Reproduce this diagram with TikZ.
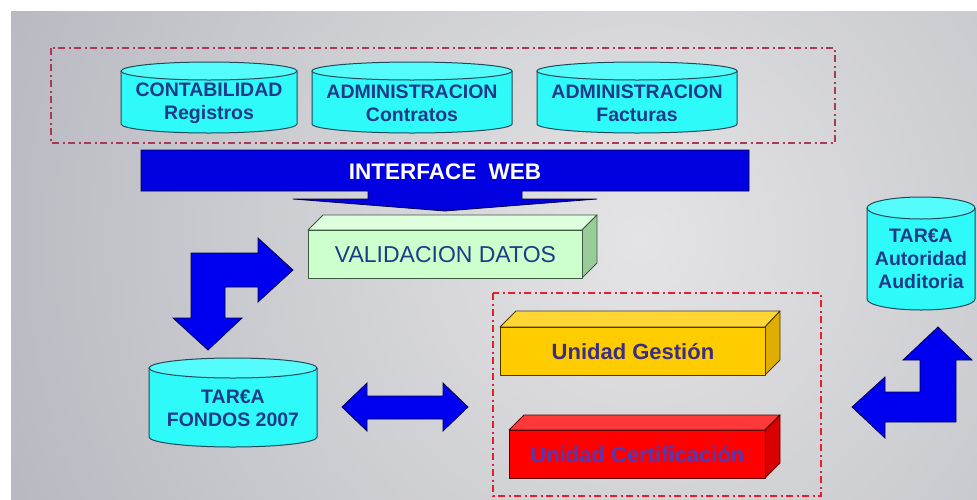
\documentclass[tikz,border=0pt]{standalone}
\usepackage{fontspec}
\setmainfont{Liberation Sans}
\definecolor{bgin}{HTML}{E4E4E6}
\definecolor{bgout}{HTML}{9A9CA6}
\definecolor{cylfill}{HTML}{2EFAFA}
\definecolor{cyltopc}{HTML}{55FCFC}
\definecolor{cyledge}{HTML}{1E4A5A}
\definecolor{dblue}{HTML}{1F3A86}
\definecolor{arrblue}{HTML}{0000F0}
\definecolor{arredge}{HTML}{000046}
\definecolor{barblue}{HTML}{0000E0}
\definecolor{maroondash}{HTML}{A83A58}
\definecolor{reddash}{HTML}{E41E2A}
\definecolor{valfront}{HTML}{CCFFCC}
\definecolor{valtop}{HTML}{DDFFDD}
\definecolor{valside}{HTML}{99CC99}
\definecolor{valedge}{HTML}{3A5A40}
\definecolor{gfront}{HTML}{FFCC00}
\definecolor{gtop}{HTML}{FFD633}
\definecolor{gside}{HTML}{E0AE00}
\definecolor{gedge}{HTML}{4A3A00}
\definecolor{gtext}{HTML}{3A2E82}
\definecolor{rfront}{HTML}{FF0000}
\definecolor{rtop}{HTML}{FF3838}
\definecolor{rside}{HTML}{D80000}
\definecolor{redge}{HTML}{5A0000}
\definecolor{rtext}{HTML}{5438B4}
\tikzset{
  cylbody/.style={fill=cylfill},
  cyloutline/.style={draw=cyledge, line width=1pt},
  cyltop/.style={fill=cyltopc, draw=cyledge, line width=1pt},
  cyltext/.style={text=dblue, font=\fontsize{19.5}{23}\selectfont\bfseries, align=center, inner sep=0pt},
  bluearrow/.style={fill=arrblue, draw=arredge, line width=0.8pt, line join=miter},
  dashdot/.style={line width=1.8pt, dash pattern=on 7pt off 3.5pt on 2pt off 3.5pt},
  facebox/.style={line width=0.9pt, line join=round},
}
\newcommand\dbcyl[8]{%
  \pgfmathsetmacro\cylcx{(#2+#3)/2}%
  \pgfmathsetmacro\cylrx{(#3-#2)/2}%
  \path[cylbody] (#2,#4+#6) -- (#2,#5-#6) arc[start angle=180,end angle=0,x radius=\cylrx,y radius=#6] -- (#3,#4+#6) arc[start angle=0,end angle=-180,x radius=\cylrx,y radius=#6] -- cycle;
  \path[cyloutline] (#2,#4+#6) -- (#2,#5-#6) arc[start angle=180,end angle=0,x radius=\cylrx,y radius=#6] -- (#3,#4+#6);
  \path[cyltop] (\cylcx,#4+#6) ellipse[x radius=\cylrx, y radius=#6];
  \node[cyltext] (#1) at (\cylcx,#7) {#8};
}
\begin{document}
\begin{tikzpicture}[x=1pt,y=-1pt]
\useasboundingbox (0,0) rectangle (977,499);
\fill[white] (0,0) rectangle (977,499);
% background
\begin{scope}
  \clip (11,11) rectangle (977,499);
  \fill[bgout] (11,11) rectangle (977,499);
  \shade[inner color=bgin, outer color=bgout] (640,240) circle (1150);
\end{scope}

% top dash-dot group
\draw[dashdot, maroondash] (51,48) rectangle (835,143);

% top cylinders
\dbcyl{cont}{121}{297}{62}{133}{9}{103}{CONTABILIDAD\\Registros}
\dbcyl{admc}{312}{512}{62}{133}{9}{103}{ADMINISTRACION\\Contratos}
\dbcyl{admf}{537}{737}{62}{133}{9}{103}{ADMINISTRACION\\Facturas}

% interface web bar with arrow
\draw[bluearrow, fill=barblue] (141,150) -- (749,150) -- (749,191) -- (522,191) -- (522,199) -- (597,199) -- (445,211) -- (293,199) -- (368,199) -- (368,191) -- (141,191) -- cycle;
\node[text=white, font=\fontsize{22.5}{25}\selectfont\bfseries, inner sep=0pt] (web) at (445,172) {INTERFACE\ \ WEB};

% validacion box
\filldraw[facebox, fill=valtop, draw=valedge] (308,230) -- (323,215) -- (597,215) -- (582,230) -- cycle;
\filldraw[facebox, fill=valside, draw=valedge] (582,230) -- (597,215) -- (597,263) -- (582,278) -- cycle;
\node[facebox, draw=valedge, fill=valfront, minimum width=274pt, minimum height=48pt, anchor=north west, inner sep=0pt, text=dblue, font=\fontsize{23}{26}\selectfont] (val) at (308,230) {VALIDACION DATOS};

% left L arrow
\draw[bluearrow] (191,253) -- (258,253) -- (258,238) -- (293,270) -- (258,302) -- (258,287) -- (225,287) -- (225,318) -- (242,318) -- (208,350) -- (173,318) -- (191,318) -- cycle;

% TAREA fondos
\dbcyl{fondos}{149}{317}{358}{447}{10}{408}{TAR€A\\FONDOS 2007}

% double arrow
\draw[bluearrow] (342,407) -- (367,383) -- (367,396) -- (443,396) -- (443,383) -- (468,407) -- (443,431) -- (443,419) -- (367,419) -- (367,431) -- cycle;

% red dash-dot group
\draw[dashdot, reddash] (493,293) rectangle (821,496);

% Unidad Gestion
\filldraw[facebox, fill=gtop, draw=gedge] (500,327) -- (516,311) -- (780,311) -- (765,327) -- cycle;
\filldraw[facebox, fill=gside, draw=gedge] (765,327) -- (780,311) -- (780,360) -- (765,375) -- cycle;
\node[facebox, draw=gedge, fill=gfront, minimum width=265pt, minimum height=48pt, anchor=north west, inner sep=0pt, text=gtext, font=\fontsize{22}{25}\selectfont\bfseries] (gest) at (500,327) {Unidad Gestión};

% Unidad Certificacion
\filldraw[facebox, fill=rtop, draw=redge] (509,430) -- (524,415) -- (780,415) -- (765,430) -- cycle;
\filldraw[facebox, fill=rside, draw=redge] (765,430) -- (780,415) -- (780,463) -- (765,478) -- cycle;
\node[facebox, draw=redge, fill=rfront, minimum width=256pt, minimum height=48pt, anchor=north west, inner sep=0pt, text=rtext, font=\fontsize{22}{25}\selectfont\bfseries] (cert) at (509,430) {Unidad Certificación};

% TAREA autoridad auditoria
\dbcyl{aud}{867}{975}{197}{310}{11}{259}{TAR€A\\Autoridad\\Auditoria}

% right L arrow
\draw[bluearrow] (938,327) -- (972,360) -- (956,360) -- (956,422) -- (885,422) -- (885,438) -- (852,407) -- (885,377) -- (885,392) -- (920,392) -- (920,360) -- (903,360) -- cycle;
\end{tikzpicture}
\end{document}
